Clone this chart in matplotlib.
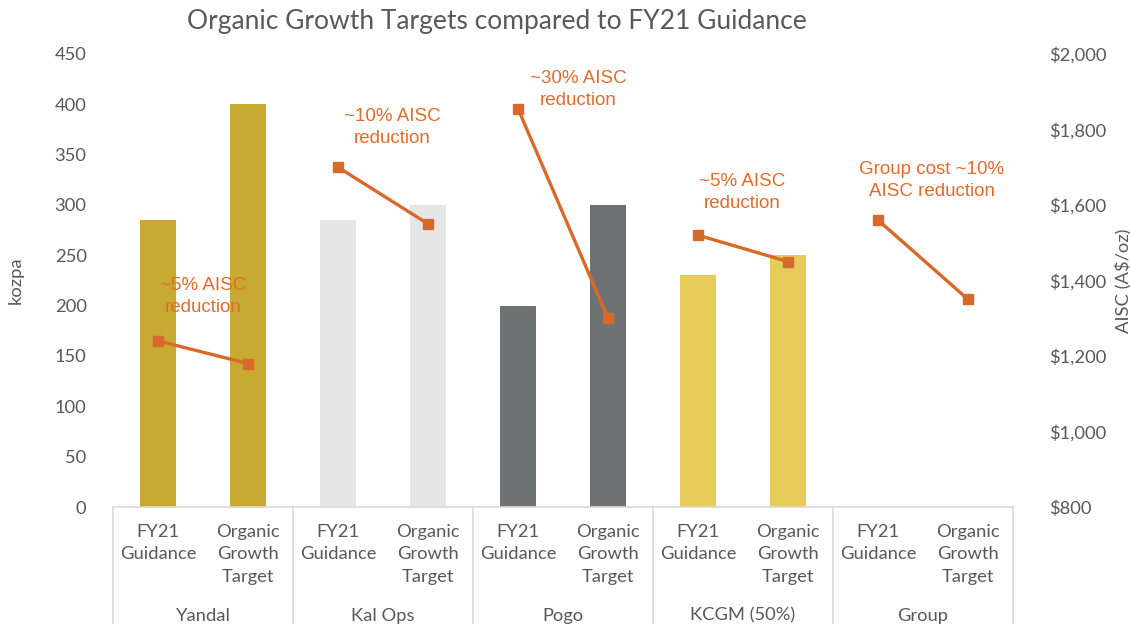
import matplotlib
matplotlib.use("Agg")
import matplotlib.pyplot as plt
import matplotlib.transforms as mtransforms
import numpy as np

# ---- data ----
groups = ["Yandal", "Kal Ops", "Pogo", "KCGM (50%)", "Group"]
sub_labels = ["FY21\nGuidance", "Organic\nGrowth\nTarget"]
production_kozpa = [285, 400, 285, 300, 200, 300, 230, 250, 0, 0]
aisc_aud = [1240, 1180, 1700, 1550, 1855, 1300, 1520, 1450, 1560, 1350]
notes = ["~5% AISC\nreduction", "~10% AISC\nreduction", "~30% AISC\nreduction",
         "~5% AISC\nreduction", "Group cost ~10%\nAISC reduction"]
note_pos = [(0.5, 1358), (0.6, 1804), (0.67, 1905), (0.49, 1632), (0.6, 1664)]
left_ticks = list(range(0, 451, 50))
right_ticks = list(range(800, 2001, 200))

bar_colors = ["#C8AA33", "#E6E6E6", "#6F7272", "#E8CC5A", "#FFFFFF"]
line_color = "#D8692A"
note_color = "#E06C2C"
text_gray = "#595959"
axis_gray = "#D9D9D9"
label_font = "Lato"
fs = 13.2

fig = plt.figure(figsize=(11.3, 6.24), dpi=100)
ax = fig.add_axes([0.1, 0.1875, 0.7965, 0.726])
ax2 = ax.twinx()

x = np.arange(len(production_kozpa))
colors = [bar_colors[i // 2] for i in range(len(x))]
ax.bar(x, production_kozpa, width=0.4, color=colors, zorder=2)

ax.set_xlim(-0.5, len(x) - 0.5)
ax.set_ylim(0, 450)
ax.set_yticks(left_ticks)
ax.set_yticklabels([str(t) for t in left_ticks])
ax2.set_ylim(800, 2000)
ax2.set_yticks(right_ticks)
ax2.set_yticklabels([f"${t:,}" for t in right_ticks])

for a in (ax, ax2):
    for s in a.spines.values():
        s.set_visible(False)
    a.tick_params(axis="y", length=0, labelsize=fs, labelcolor=text_gray,
                  labelfontfamily=label_font)
ax.tick_params(axis="y", pad=19)
ax2.tick_params(axis="y", pad=26)
ax.set_xticks([])

# category axis line and multi-level labels
trans = mtransforms.blended_transform_factory(ax.transData, ax.transAxes)
ax.plot([-0.5, len(x) - 0.5], [0, 0], transform=trans, color=axis_gray,
        lw=1.2, clip_on=False, zorder=3)
for b in np.arange(-0.5, len(x), 2):
    ax.plot([b, b], [0, -0.26], transform=trans, color=axis_gray, lw=1.2,
            clip_on=False)
for i in x:
    ax.text(i, -0.037, sub_labels[i % 2], transform=trans, ha="center",
            va="top", fontsize=fs, color=text_gray, family=label_font,
            linespacing=1.5)
for g, name in enumerate(groups):
    ax.text(2 * g + 0.5, -0.24, name, transform=trans, ha="center",
            va="center", fontsize=fs, color=text_gray, family=label_font)

# AISC lines, one segment per group
for g in range(len(groups)):
    xs = x[2 * g:2 * g + 2]
    ys = aisc_aud[2 * g:2 * g + 2]
    ax2.plot(xs, ys, color=line_color, lw=2.4, marker="s", markersize=7.5,
             zorder=4)
    dx, dy = note_pos[g]
    ax2.text(2 * g + dx, dy, notes[g], ha="center", va="center",
             fontsize=13.5, color=note_color, family="Liberation Sans",
             linespacing=1.38, zorder=5)

ax.set_ylabel("kozpa", fontsize=fs, color=text_gray, family=label_font,
              labelpad=22)
ax2.set_ylabel("AISC (A$/oz)", fontsize=fs, color=text_gray, family=label_font,
               labelpad=6)

fig.text(0.44, 0.965, "Organic Growth Targets compared to FY21 Guidance",
         ha="center", va="center", fontsize=19, color=text_gray,
         family=label_font)

fig.savefig("out.png", dpi=100)
